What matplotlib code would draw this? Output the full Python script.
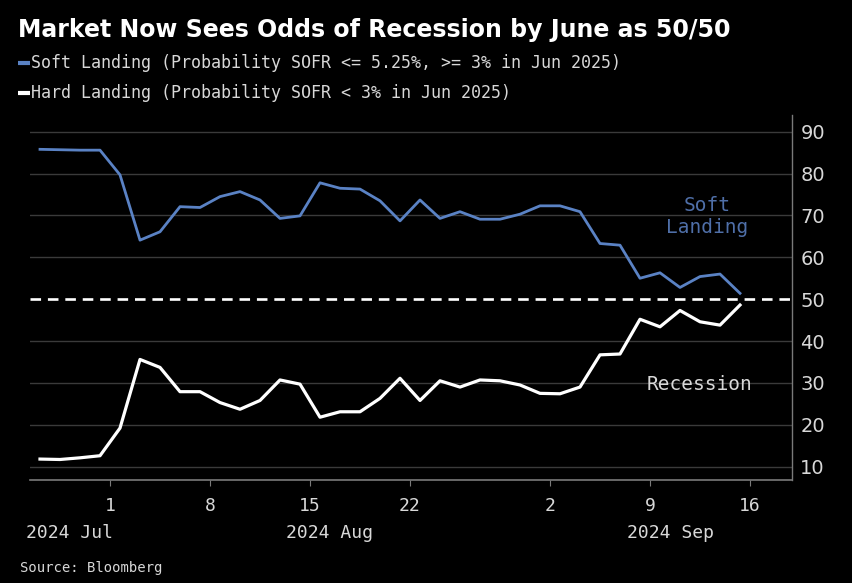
import matplotlib
matplotlib.use("Agg")
import matplotlib.pyplot as plt
import matplotlib.transforms as mtransforms
import numpy as np
import pandas as pd

# Trading days shown on the chart (weekday axis, 29 Jul - 16 Sep 2024)
dates = pd.bdate_range("2024-07-29", "2024-09-16")

# Probability (%) of SOFR <= 5.25% and >= 3% in Jun 2025
soft_landing = [85.8, 85.7, 85.6, 85.6, 79.7, 64.1, 66.1, 72.1, 71.9, 74.5,
                75.7, 73.7, 69.3, 69.9, 77.8, 76.5, 76.3, 73.5, 68.7, 73.7,
                69.3, 70.9, 69.1, 69.1, 70.3, 72.3, 72.3, 70.9, 63.3, 62.9,
                55.0, 56.3, 52.8, 55.4, 56.0, 51.4]

# Probability (%) of SOFR < 3% in Jun 2025
hard_landing = [11.8, 11.7, 12.1, 12.6, 19.2, 35.6, 33.7, 27.9, 27.9, 25.3,
                23.7, 25.8, 30.7, 29.7, 21.8, 23.1, 23.1, 26.3, 31.1, 25.8,
                30.5, 29.0, 30.7, 30.5, 29.5, 27.5, 27.4, 29.0, 36.7, 36.9,
                45.2, 43.4, 47.3, 44.6, 43.8, 48.6]

tick_dates = ["2024-08-01", "2024-08-08", "2024-08-15", "2024-08-22",
              "2024-09-02", "2024-09-09", "2024-09-16"]
y_ticks = [10, 20, 30, 40, 50, 60, 70, 80, 90]
threshold = 50

title = "Market Now Sees Odds of Recession by June as 50/50"
soft_label = "Soft Landing (Probability SOFR <= 5.25%, >= 3% in Jun 2025)"
hard_label = "Hard Landing (Probability SOFR < 3% in Jun 2025)"
source = "Source: Bloomberg"

BG = "black"
BLUE = "#5a82c4"
BLUE_TEXT = "#4f6fa8"
GRID = "#3a3a3a"
AXIS = "#7a7a7a"
TEXT = "#d8d8d8"
MONO = ["DejaVu Sans Mono"]

x = np.arange(len(dates))
idx = {d: i for i, d in enumerate(dates)}
half = 0.5  # labels sit at the middle of each trading session

fig = plt.figure(figsize=(8.53, 5.83), dpi=100, facecolor=BG)
ax = fig.add_axes([30 / 853, 103 / 583, 762 / 853, 365 / 583], facecolor=BG)

ax.set_xlim(-0.5, 37.6)
ax.set_ylim(6.8, 94)

for v in y_ticks:
    if v != threshold:
        ax.axhline(v, color=GRID, lw=1.0, zorder=1)
ax.axhline(threshold, color="white", lw=1.9, dashes=(4, 2.6), zorder=2)

ax.plot(x, soft_landing, color=BLUE, lw=2.0, solid_joinstyle="round", zorder=3)
ax.plot(x, hard_landing, color="white", lw=2.3, solid_joinstyle="round", zorder=3)

# Axes styling
for side in ("top", "left"):
    ax.spines[side].set_visible(False)
ax.spines["right"].set_color(AXIS)
ax.spines["bottom"].set_color(AXIS)
ax.spines["right"].set_linewidth(1.0)
ax.spines["bottom"].set_linewidth(1.2)

ax.yaxis.tick_right()
ax.set_yticks(y_ticks)
ax.set_yticklabels([str(v) for v in y_ticks])
ax.tick_params(axis="y", length=0, pad=6, labelsize=14, labelcolor=TEXT)
for lab in ax.get_yticklabels():
    lab.set_family(["DejaVu Sans"])

tick_pos = [idx[pd.Timestamp(d)] + half for d in tick_dates]
ax.set_xticks(tick_pos)
ax.set_xticklabels([str(pd.Timestamp(d).day) for d in tick_dates])
ax.tick_params(axis="x", length=4, color=AXIS, pad=8, labelsize=13, labelcolor=TEXT)
for lab in ax.get_xticklabels():
    lab.set_family(MONO)

# Month labels centred on the visible part of each month
xmin, xmax = ax.get_xlim()
trans = mtransforms.blended_transform_factory(ax.transData, fig.transFigure)
months = list(pd.Series(x, index=dates).groupby(dates.to_period("M")))
for i, (period, grp) in enumerate(months):
    start = grp.iloc[0] + half if grp.iloc[0] > 0 else xmin
    end = xmax if i == len(months) - 1 else grp.iloc[-1] + 1 + half
    ax.text((start + end) / 2, 1 - 533 / 583, period.strftime("%Y %b"),
            transform=trans, ha="center", va="center", fontsize=13,
            color=TEXT, family=MONO)

# Inline series labels
ax.text(33.35, 69.8, "Soft\nLanding", color=BLUE_TEXT, fontsize=14, family=MONO,
        ha="center", va="center", linespacing=1.2)
ax.text(33.0, 29.7, "Recession", color=TEXT, fontsize=14, family=MONO,
        ha="center", va="center")

# Title, legend and source
fig.text(18 / 853, 1 - 30 / 583, title, color="white", fontsize=17,
         fontweight="bold", family=["DejaVu Sans"],
         ha="left", va="center")
for ypx, color, label in [(63, BLUE, soft_label), (93, "white", hard_label)]:
    yf = 1 - ypx / 583
    fig.add_artist(plt.Line2D([18 / 853, 30 / 853], [yf, yf], color=color,
                              lw=3, solid_capstyle="butt"))
    fig.text(31 / 853, yf, label, color=TEXT, fontsize=12, family=MONO,
             ha="left", va="center")
fig.text(20 / 853, 1 - 568 / 583, source, color=TEXT, fontsize=10,
         family=MONO, ha="left", va="center")

fig.savefig("out.png", dpi=100, facecolor=BG)
